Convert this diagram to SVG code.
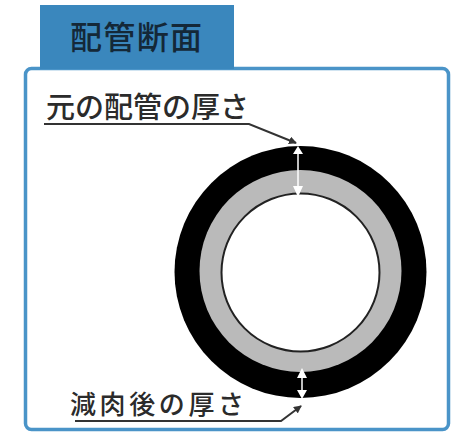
<svg xmlns="http://www.w3.org/2000/svg" width="452" height="433" viewBox="0 0 452 433">
<style>
.t{font-family:"Noto Sans CJK JP","Noto Sans",sans-serif;fill:#2b2b2b;font-weight:500}
.lead{fill:none;stroke:#333;stroke-width:2}
.dim{stroke:#fff;stroke-width:1.500;fill:none}
.ah{fill:#fff}
</style>
<defs>
<marker id="lh" markerWidth="8" markerHeight="8" refX="7" refY="4" orient="auto" markerUnits="userSpaceOnUse"><path d="M0 0L8 4L0 8Z" fill="#333"/></marker>
</defs>
<rect width="452" height="433" fill="#fff"/>
<g id="panel"><rect x="25.500" y="68.500" width="423" height="361" rx="6" fill="#fff" stroke="#4a94c8" stroke-width="3.500"/></g>
<g id="tab"><rect x="40" y="5" width="194" height="64" fill="#3a87bd"/>
<text class="t" x="70" y="49" font-size="32" style="fill:#142838" textLength="132">配管断面</text></g>
<g id="pipe">
<circle cx="300.500" cy="272" r="126" fill="#000"/>
<circle cx="300.500" cy="271" r="101" fill="#bababa"/>
<circle cx="300.500" cy="272.500" r="79" fill="#fff" stroke="#222" stroke-width="2"/>
</g>
<g id="label-original"><text class="t" x="46" y="118" font-size="29" textLength="203">元の配管の厚さ</text></g>
<g id="label-reduced"><text class="t" x="70" y="414" font-size="26" textLength="174">減肉後の厚さ</text></g>
<g id="connectors">
<path class="lead" d="M44 124H249L296 143" marker-end="url(#lh)"/>
<path class="lead" d="M75 421H281L301 406" marker-end="url(#lh)"/>
<path class="dim" d="M298 150V192"/>
<path class="ah" d="M298 146L303 154H293ZM298 197L293 186H303Z"/>
<path class="dim" d="M302 372V395"/>
<path class="ah" d="M302 368L307 378H297ZM302 399L297 390H307Z"/>
</g>
</svg>
